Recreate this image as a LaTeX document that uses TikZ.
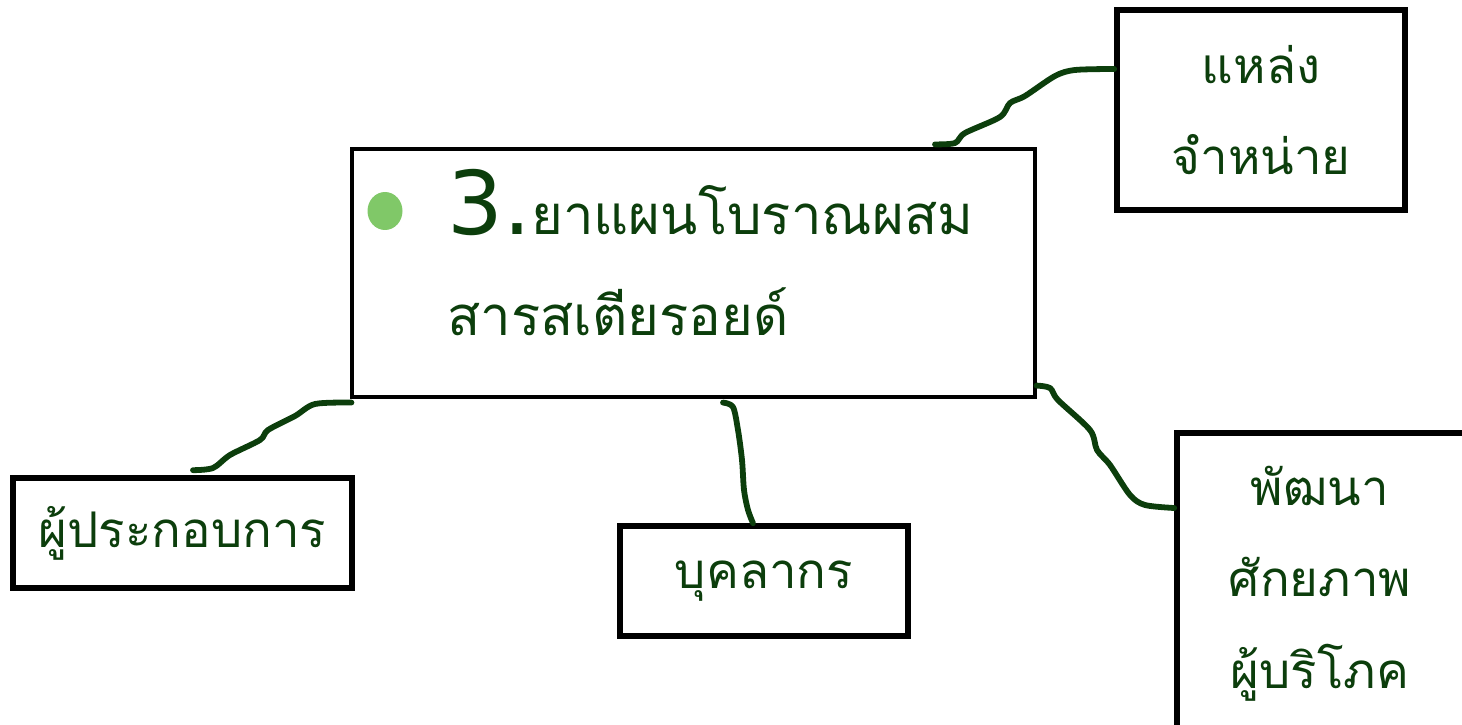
\documentclass[tikz,border=0pt]{standalone}
\usepackage{fontspec}
\newfontfamily\thaifont[Script=Thai]{Loma}
\newfontfamily\numfont{DejaVu Sans}
\usepackage{tikz}
\usetikzlibrary{shapes.geometric}

\definecolor{leaf}{RGB}{12,62,12}
\definecolor{dotgreen}{RGB}{128,200,104}

\tikzset{
  box/.style={draw=black, line width=3.2pt, inner sep=0pt},
  lbl/.style={text=leaf, font=\thaifont\fontsize{28}{52}\selectfont, align=center, inner sep=0pt},
  link/.style={draw=leaf, line width=3.3pt, line cap=round, line join=round}
}

\begin{document}
\begin{tikzpicture}
\useasboundingbox (0,0) rectangle (29.24,14.48);
\path (13.87,9.02) node[box, line width=1.8pt, minimum width=13.66cm, minimum height=4.96cm] (main) {}
		(7.7,10.26) node[ellipse, fill=dotgreen, minimum width=.7cm, minimum height=.76cm, inner sep=0pt] (dot) {}
		(8.94,9.78) node[anchor=base west, inner sep=0pt, text=leaf] (title) {{\numfont\fontsize{50}{50}\selectfont 3.}{\thaifont\fontsize{31}{40}\selectfont ยาแผนโบราณผสม}}
		(8.94,7.78) node[anchor=base west, inner sep=0pt, text=leaf, font=\thaifont\fontsize{31}{40}\selectfont] (title2) {สารสเตียรอยด์}
		(25.22,12.28) node[box, lbl, minimum width=5.76cm, minimum height=4cm] (shop) {แหล่ง\\จำหน่าย}
		(3.65,3.82) node[box, lbl, minimum width=6.78cm, minimum height=2.2cm] (ops) {ผู้ประกอบการ}
		(15.28,2.86) node[box, lbl, minimum width=5.76cm, minimum height=2.2cm] (staff) {บุคลากร}
		(26.42,2.85) node[box, minimum width=5.76cm, minimum height=5.94cm] (dev) {}
		(26.4,0.72) node[lbl, anchor=base, align=center] (devtxt) {พัฒนา\\ศักยภาพ\\ผู้บริโภค};
% wiggly links
\draw[link] plot[smooth, tension=.5] coordinates {([xshift=4.83cm,yshift=.06cm]main.north) (19.1,11.62) (19.3,11.82) (20,12.14) (20.2,12.42) (20.5,12.56) (21.1,12.96) (21.5,13.08) ([yshift=.82cm]shop.west)};
\draw[link] plot[smooth, tension=.5] coordinates {([xshift=.02cm,yshift=-.08cm]main.south west) (6.3,6.4) (5.9,6.16) (5.36,5.88) (5.2,5.68) (4.6,5.38) (4.26,5.12) ([xshift=.21cm,yshift=.1cm]ops.north)};
\draw[link] plot[smooth, tension=.5] coordinates {([xshift=.59cm,yshift=-.08cm]main.south) (14.66,6.34) (14.76,5.88) (14.84,5.28) (14.88,4.68) (14.96,4.28) ([xshift=-.22cm]staff.north)};
\draw[link] plot[smooth, tension=.5] coordinates {([yshift=.26cm]main.south east) (21,6.72) (21.16,6.48) (21.8,5.88) (21.94,5.48) (22.2,5.18) (22.6,4.58) (22.9,4.38) ([yshift=1.47cm]dev.west)};
\end{tikzpicture}
\end{document}
